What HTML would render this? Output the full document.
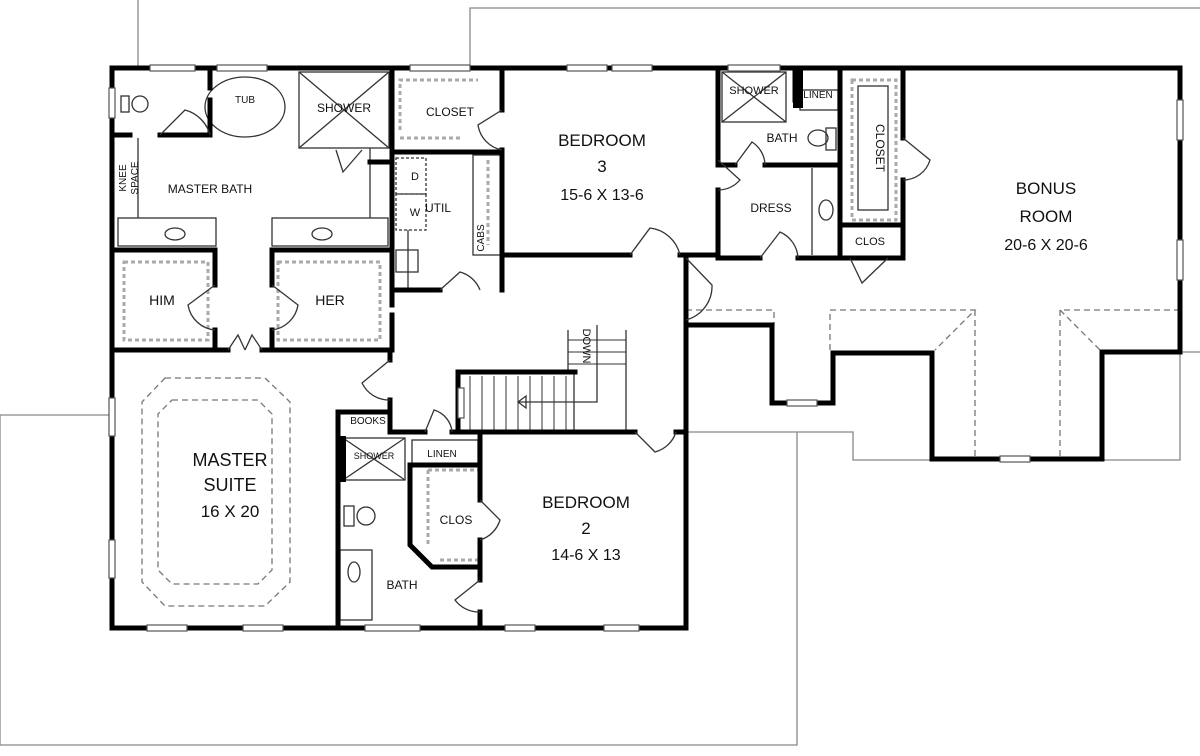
<!DOCTYPE html>
<html><head><meta charset="utf-8"><style>
html,body{margin:0;padding:0;background:#fff;}
svg{display:block;}
text{font-family:"Liberation Sans",sans-serif;fill:#111;}
</style></head><body>
<svg width="1200" height="756" viewBox="0 0 1200 756" xmlns="http://www.w3.org/2000/svg">
<!-- site lines -->
<g stroke="#888" stroke-width="1.3" fill="none">
<polyline points="138,0 138,68"/>
<polyline points="470,68 470,8 1200,8"/>
<polyline points="0,415 112,415"/>
<polyline points="0,415 0,745 797,745 797,628"/>
<polyline points="686,432 853,432 853,460 933,460"/>
<polyline points="797,432 797,628"/>
<polyline points="1100,460 1180,460 1180,352"/>
<polyline points="1180,352 1200,352"/>
</g>
<!-- thin interior lines -->
<g stroke="#333" stroke-width="1.3" fill="none">
<rect x="118" y="218" width="98" height="28"/>
<rect x="272" y="218" width="116" height="28"/>
<line x1="138" y1="138" x2="138" y2="218"/>
<line x1="370" y1="148" x2="370" y2="218"/>
<rect x="299" y="72" width="90" height="76"/>
<line x1="299" y1="72" x2="389" y2="148"/><line x1="389" y1="72" x2="299" y2="148"/>
<ellipse cx="245" cy="107" rx="40" ry="30"/>
<circle cx="140" cy="104" r="8"/><rect x="121" y="96" width="8" height="16"/>
<ellipse cx="175" cy="234" rx="10" ry="6"/><ellipse cx="322" cy="234" rx="10" ry="6"/>
<rect x="396" y="158" width="30" height="36" stroke-dasharray="3,2"/>
<rect x="396" y="194" width="30" height="36" stroke-dasharray="3,2"/>
<rect x="396" y="250" width="22" height="22"/>
<line x1="408" y1="230" x2="408" y2="290"/>
<rect x="473" y="155" width="29" height="100"/>
<rect x="722" y="72" width="64" height="50"/>
<line x1="722" y1="72" x2="786" y2="122"/><line x1="786" y1="72" x2="722" y2="122"/>
<rect x="800" y="90" width="38" height="20"/>
<ellipse cx="818" cy="138" rx="10" ry="8"/><rect x="826" y="128" width="10" height="22"/>
<line x1="812" y1="168" x2="812" y2="255"/>
<ellipse cx="826" cy="210" rx="7" ry="10"/>
<rect x="858" y="86" width="30" height="124"/>
<rect x="343" y="438" width="62" height="42"/>
<line x1="343" y1="438" x2="405" y2="480"/><line x1="405" y1="438" x2="343" y2="480"/>
<rect x="412" y="440" width="66" height="24"/>
<circle cx="366" cy="516" r="9"/><rect x="344" y="506" width="10" height="20"/>
<rect x="340" y="550" width="32" height="70"/>
<ellipse cx="354" cy="572" rx="6" ry="10"/>
<rect x="458" y="372" width="116" height="60"/>
<g stroke-width="1">
<line x1="470" y1="376" x2="470" y2="432"/><line x1="482" y1="376" x2="482" y2="432"/><line x1="494" y1="376" x2="494" y2="432"/><line x1="506" y1="376" x2="506" y2="432"/><line x1="518" y1="376" x2="518" y2="432"/><line x1="530" y1="376" x2="530" y2="432"/><line x1="542" y1="376" x2="542" y2="432"/><line x1="554" y1="376" x2="554" y2="432"/><line x1="566" y1="376" x2="566" y2="432"/>
<line x1="568" y1="340" x2="626" y2="340"/><line x1="568" y1="352" x2="626" y2="352"/><line x1="568" y1="364" x2="626" y2="364"/>
</g>
<line x1="568" y1="330" x2="568" y2="372"/><line x1="626" y1="330" x2="626" y2="432"/>
<polyline points="597,325 597,402 518,402"/>
<polygon points="518,402 526,396 526,408"/>
</g>
<!-- dashed -->
<g stroke="#777" stroke-width="1.3" fill="none" stroke-dasharray="6,4">
<rect x="124" y="262" width="84" height="78" stroke-width="3" stroke-dasharray="4,3" stroke="#aaa"/>
<rect x="278" y="262" width="102" height="78" stroke-width="3" stroke-dasharray="4,3" stroke="#aaa"/>
<polyline points="400,130 400,80 478,80" stroke-width="3" stroke-dasharray="4,3" stroke="#aaa"/>
<polyline points="400,138 462,138" stroke-width="3" stroke-dasharray="4,3" stroke="#aaa"/>
<polyline points="488,160 488,245" stroke-width="3" stroke-dasharray="4,3" stroke="#aaa"/>
<rect x="852" y="80" width="44" height="140" stroke-width="3" stroke-dasharray="4,3" stroke="#aaa"/>
<polyline points="428,470 428,546" stroke-width="3" stroke-dasharray="4,3" stroke="#aaa"/>
<polyline points="428,470 478,470" stroke-width="3" stroke-dasharray="4,3" stroke="#aaa"/>
<polyline points="440,560 478,560" stroke-width="3" stroke-dasharray="4,3" stroke="#aaa"/>
<polygon points="165,378 265,378 290,402 290,582 265,606 165,606 142,582 142,402"/>
<polygon points="172,400 258,400 272,414 272,570 258,584 172,584 158,570 158,414"/>
<polyline points="686,310 774,310 774,325"/>
<polyline points="830,350 830,310 975,310 935,350"/>
<polyline points="1180,310 1060,310 1060,460"/>
<line x1="1060" y1="310" x2="1100" y2="350"/>
<line x1="975" y1="310" x2="975" y2="460"/>
</g>
<!-- walls -->
<g stroke="#000" stroke-width="5" fill="none" stroke-linecap="square">
<polyline points="112,68 1180,68 1180,352 1102,352 1102,459 932,459 932,353 833,353 833,403 772,403 772,325 686,325"/>
<polyline points="112,68 112,628 686,628 686,255"/>
<line x1="210" y1="68" x2="210" y2="88"/><line x1="160" y1="135" x2="210" y2="135"/><line x1="210" y1="100" x2="210" y2="135"/>
<line x1="112" y1="135" x2="130" y2="135"/>
<line x1="112" y1="250" x2="215" y2="250"/><line x1="215" y1="250" x2="215" y2="285"/><line x1="215" y1="330" x2="215" y2="350"/>
<line x1="272" y1="250" x2="390" y2="250"/><line x1="272" y1="250" x2="272" y2="285"/><line x1="272" y1="330" x2="272" y2="350"/>
<line x1="112" y1="350" x2="228" y2="350"/><line x1="262" y1="350" x2="390" y2="350"/>
<line x1="392" y1="68" x2="392" y2="305"/><line x1="392" y1="315" x2="392" y2="350"/>
<line x1="390" y1="350" x2="390" y2="360"/><line x1="390" y1="400" x2="390" y2="412"/>
<line x1="370" y1="162" x2="392" y2="162"/>
<line x1="392" y1="152" x2="502" y2="152"/>
<line x1="502" y1="68" x2="502" y2="110"/><line x1="502" y1="150" x2="502" y2="290"/>
<line x1="392" y1="290" x2="440" y2="290"/>
<line x1="502" y1="255" x2="630" y2="255"/><line x1="680" y1="255" x2="718" y2="255"/>
<line x1="718" y1="68" x2="718" y2="160"/><line x1="718" y1="190" x2="718" y2="255"/>
<line x1="718" y1="258" x2="760" y2="258"/><line x1="798" y1="258" x2="903" y2="258"/>
<line x1="718" y1="165" x2="735" y2="165"/><line x1="765" y1="165" x2="840" y2="165"/>
<line x1="795" y1="68" x2="795" y2="100"/>
<line x1="840" y1="68" x2="840" y2="258"/>
<line x1="840" y1="225" x2="903" y2="225"/>
<line x1="903" y1="68" x2="903" y2="138"/><line x1="903" y1="180" x2="903" y2="258"/>
<line x1="686" y1="255" x2="686" y2="258"/>
<polyline points="458,432 458,372 575,372"/>
<line x1="338" y1="412" x2="390" y2="412"/>
<line x1="338" y1="412" x2="338" y2="628"/>
<line x1="390" y1="432" x2="425" y2="432"/><line x1="452" y1="432" x2="635" y2="432"/><line x1="676" y1="432" x2="686" y2="432"/>
<line x1="390" y1="412" x2="390" y2="432"/>
<polyline points="480,432 480,500"/><line x1="480" y1="540" x2="480" y2="580"/><line x1="480" y1="612" x2="480" y2="628"/>
<polyline points="410,465 480,465"/><polyline points="410,465 410,545 432,567 480,567"/>
</g>
<rect x="338" y="436" width="8" height="46" fill="#000"/>
<rect x="793" y="68" width="10" height="40" fill="#000"/>
<!-- windows -->
<g fill="#fff" stroke="#555" stroke-width="1.2">
<rect x="150" y="65" width="45" height="6"/><rect x="217" y="65" width="50" height="6"/><rect x="410" y="65" width="60" height="6"/><rect x="567" y="65" width="40" height="6"/><rect x="612" y="65" width="40" height="6"/><rect x="728" y="65" width="52" height="6"/>
<rect x="109" y="88" width="6" height="30"/><rect x="109" y="398" width="6" height="38"/><rect x="109" y="540" width="6" height="38"/>
<rect x="1177" y="100" width="6" height="40"/><rect x="1177" y="240" width="6" height="40"/>
<rect x="147" y="625" width="40" height="6"/><rect x="243" y="625" width="40" height="6"/><rect x="365" y="625" width="55" height="6"/><rect x="505" y="625" width="30" height="6"/><rect x="604" y="625" width="35" height="6"/>
<rect x="787" y="400" width="30" height="6"/><rect x="1000" y="456" width="30" height="6"/>
<rect x="458" y="388" width="6" height="30"/>
</g>
<!-- door swings -->
<g stroke="#333" stroke-width="1.3" fill="none">
<path d="M160,135 L185,110 A35,35 0 0 1 210,135"/>
<path d="M215,285 L188,305 A30,30 0 0 0 215,330"/>
<path d="M272,285 L298,305 A30,30 0 0 1 272,330"/>
<path d="M228,350 L238,335 L245,350 M262,350 L252,335 L245,350"/>
<path d="M502,110 L478,125 A30,30 0 0 0 502,150"/>
<path d="M440,290 L460,272 A30,30 0 0 1 480,290"/>
<path d="M630,255 L650,228 A35,35 0 0 1 680,255"/>
<path d="M686,258 L712,285 A35,35 0 0 1 686,320"/>
<path d="M390,360 L362,383 A30,30 0 0 0 390,400"/>
<path d="M425,432 L434,410 A25,25 0 0 1 452,432"/>
<path d="M635,432 L655,452 A30,30 0 0 0 676,432"/>
<path d="M480,500 L500,520 A30,30 0 0 1 480,540"/>
<path d="M480,580 L455,600 A30,30 0 0 0 480,612"/>
<path d="M718,160 L740,180 A30,30 0 0 1 718,190"/>
<path d="M735,165 L752,142 A28,28 0 0 1 765,165"/>
<path d="M760,258 L780,232 A30,30 0 0 1 798,258"/>
<path d="M903,138 L930,160 A28,28 0 0 1 903,180"/>
<path d="M850,258 L862,283 L888,258"/>
<path d="M336,150 L343,172 L362,150"/>
</g>
<!-- labels -->
<g font-size="12" text-anchor="middle">
<text x="245" y="103" font-size="10">TUB</text>
<text x="344" y="112">SHOWER</text>
<text x="450" y="116">CLOSET</text>
<text x="210" y="193">MASTER  BATH</text>
<text x="162" y="305" font-size="14">HIM</text>
<text x="330" y="305" font-size="14">HER</text>
<text x="438" y="212">UTIL</text>
<text x="415" y="180" font-size="11">D</text>
<text x="415" y="216" font-size="11">W</text>
<text x="754" y="94" font-size="11">SHOWER</text>
<text x="818" y="98" font-size="10">LINEN</text>
<text x="782" y="142">BATH</text>
<text x="771" y="212">DRESS</text>
<text x="870" y="245" font-size="11">CLOS</text>
<text x="368" y="424" font-size="10">BOOKS</text>
<text x="374" y="459" font-size="9">SHOWER</text>
<text x="442" y="457" font-size="10">LINEN</text>
<text x="456" y="524">CLOS</text>
<text x="402" y="589">BATH</text>
<text x="602" y="146" font-size="17">BEDROOM</text>
<text x="602" y="172" font-size="17">3</text>
<text x="602" y="200" font-size="16">15-6 X 13-6</text>
<text x="1046" y="194" font-size="17">BONUS</text>
<text x="1046" y="222" font-size="17">ROOM</text>
<text x="1046" y="250" font-size="16">20-6 X 20-6</text>
<text x="230" y="466" font-size="18">MASTER</text>
<text x="230" y="491" font-size="18">SUITE</text>
<text x="230" y="517" font-size="17">16 X 20</text>
<text x="586" y="508" font-size="17">BEDROOM</text>
<text x="586" y="534" font-size="17">2</text>
<text x="586" y="560" font-size="16">14-6 X 13</text>
</g>
<text font-size="10" transform="translate(126,178) rotate(-90)" text-anchor="middle">KNEE</text>
<text font-size="10" transform="translate(138,178) rotate(-90)" text-anchor="middle">SPACE</text>
<text font-size="10" transform="translate(484,238) rotate(-90)" text-anchor="middle">CABS</text>
<text font-size="12" transform="translate(876,148) rotate(90)" text-anchor="middle">CLOSET</text>
<text font-size="11" transform="translate(583,346) rotate(90)" text-anchor="middle">DOWN</text>
</svg>
</body></html>
